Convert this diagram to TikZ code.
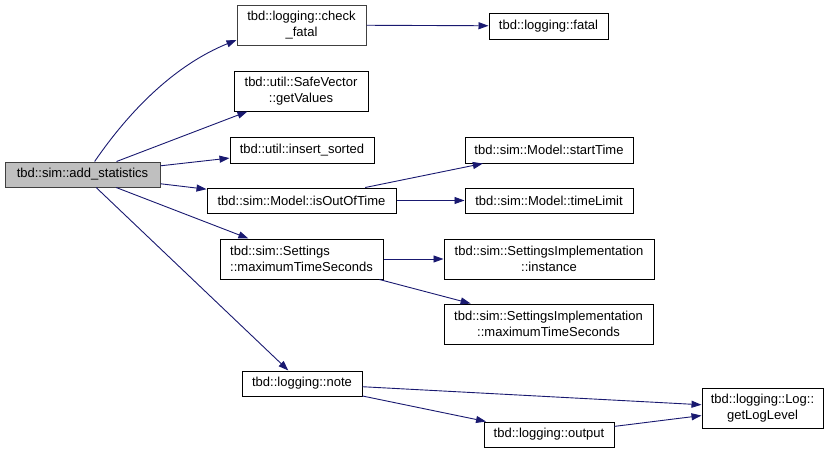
\documentclass[tikz,border=0pt]{standalone}
\usepackage{fontspec}
\setmainfont{Liberation Sans}
\usetikzlibrary{arrows.meta}
\definecolor{edgeblue}{HTML}{191970}
\definecolor{rootfill}{HTML}{BFBFBF}
\definecolor{darkborder}{HTML}{404040}
\begin{document}
\begin{tikzpicture}[x=1pt,y=-1pt,
  fn/.style={draw=black,fill=white,line width=1pt,inner sep=0pt,align=center,
    font=\fontsize{13}{15.5}\selectfont},
  rootfn/.style={fn,fill=rootfill,draw=darkborder},
  call/.style={draw=edgeblue,line width=0.9pt,-{Triangle[length=10pt,width=7pt]}}]
\useasboundingbox (0,0) rectangle (829,453);
% nodes
\node[rootfn,minimum width=155pt,minimum height=25pt] (add) at (82.5,174.5) {tbd::sim::add\_statistics};
\node[fn,draw=darkborder,minimum width=129pt,minimum height=40pt] (cf) at (301.5,25) {tbd::logging::check\\\_fatal};
\node[fn,minimum width=119pt,minimum height=26pt] (fatal) at (548.5,26) {tbd::logging::fatal};
\node[fn,minimum width=134pt,minimum height=40pt] (sv) at (301,91) {tbd::util::SafeVector\\::getValues};
\node[fn,minimum width=144pt,minimum height=26pt] (ins) at (302,150) {tbd::util::insert\_sorted};
\node[fn,minimum width=189pt,minimum height=25pt] (oot) at (301.5,200.5) {tbd::sim::Model::isOutOfTime};
\node[fn,minimum width=168pt,minimum height=26pt] (st) at (549,150) {tbd::sim::Model::startTime};
\node[fn,minimum width=168pt,minimum height=25pt] (tl) at (549,200.5) {tbd::sim::Model::timeLimit};
\node[fn,align=left,minimum width=163pt,minimum height=40pt] (set) at (301.5,259) {tbd::sim::Settings\\::maximumTimeSeconds};
\node[fn,minimum width=210pt,minimum height=40pt] (inst) at (549,259) {tbd::sim::SettingsImplementation\\::instance};
\node[fn,minimum width=209pt,minimum height=40pt] (simax) at (548.5,324) {tbd::sim::SettingsImplementation\\::maximumTimeSeconds};
\node[fn,minimum width=120pt,minimum height=25pt] (note) at (302,383.5) {tbd::logging::note};
\node[fn,minimum width=130pt,minimum height=25pt] (out) at (549,434.5) {tbd::logging::output};
\node[fn,minimum width=121pt,minimum height=40pt] (gll) at (762.5,408) {tbd::logging::Log::\\getLogLevel};
% edges
\draw[call] (add.47) .. controls (130,110) and (175,65) .. (cf.193);
\draw[call] (add) -- (sv);
\draw[call] (add) -- (ins);
\draw[call] (add) -- (oot);
\draw[call] (add) -- (set);
\draw[call] (add) -- (note);
\draw[call] (cf) -- (fatal);
\draw[call] (oot) -- (st);
\draw[call] (oot) -- (tl);
\draw[call] (set) -- (inst);
\draw[call] (set) -- (simax);
\draw[call] (note) -- (gll);
\draw[call] (note) -- (out);
\draw[call] (out) -- (gll);
\end{tikzpicture}
\end{document}
